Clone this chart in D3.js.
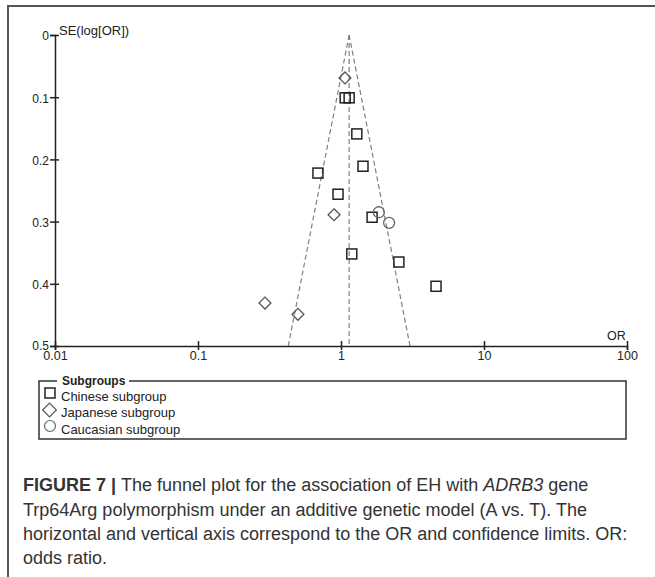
<!DOCTYPE html>
<html>
<head>
<meta charset="utf-8">
<script src="https://d3js.org/d3.v7.min.js"></script>
<style>
    body { margin: 0; background: #fff; }
    svg { display: block; font-family: "Liberation Sans", Arial, sans-serif; }
</style>
</head>
<body>
<svg id="chart" width="655" height="577"></svg>
<script>
/** Study points: odds ratio and SE(log[OR]) */
var chineseOR = [1.07, 1.14, 1.29, 1.425, 0.69, 0.953, 1.65, 1.19, 2.54, 4.62];
var chineseSE = [0.101, 0.101, 0.159, 0.211, 0.222, 0.256, 0.293, 0.352, 0.365, 0.404];

var japaneseOR = [1.066, 0.894, 0.294, 0.50];
var japaneseSE = [0.069, 0.289, 0.431, 0.449];

var caucasianOR = [1.84, 2.17];
var caucasianSE = [0.285, 0.302];

/** Pooled OR (centre of the funnel) */
var pooledOR = 1.14;

/** Axis ticks */
var xTicks = [0.01, 0.1, 1, 10, 100];
var yTicks = [0, 0.1, 0.2, 0.3, 0.4, 0.5];

var legendLabels = ['Chinese subgroup', 'Japanese subgroup', 'Caucasian subgroup'];

/** Plot area */
var plotLeft = 55, plotRight = 627,
    plotTop = 35, plotBottom = 346;

var xScale = d3.scaleLog()
    .domain([0.01, 100])
    .range([plotLeft, plotRight]);

var yScale = d3.scaleLinear()
    .domain([0, 0.5])
    .range([plotTop, plotBottom]);

var svg = d3.select('#chart');

// outer frame (only left and top edges show in the crop)
svg.append('path')
    .attr('d', 'M8,577V6H655')
    .attr('fill', 'none')
    .attr('stroke', '#555')
    .attr('stroke-width', 2);

// funnel: pooled line and 95% limits
var seMax = 0.5;
var funnel = [
    [[pooledOR, 0], [pooledOR * Math.exp(-1.96 * seMax), seMax]],
    [[pooledOR, 0], [pooledOR, seMax]],
    [[pooledOR, 0], [pooledOR * Math.exp(1.96 * seMax), seMax]]
];
var line = d3.line()
    .x(function (d) { return xScale(d[0]); })
    .y(function (d) { return yScale(d[1]); });

svg.append('g').selectAll('path')
    .data(funnel)
    .enter()
    .append('path')
    .attr('d', line)
    .attr('fill', 'none')
    .attr('stroke', '#808080')
    .attr('stroke-width', 1.2)
    .attr('stroke-dasharray', '5,3');

/** axes */
var xAxis = d3.axisBottom(xScale)
    .tickValues(xTicks)
    .tickSize(4)
    .tickFormat(function (d) { return String(d); });

var gx = svg.append('g')
    .attr('transform', 'translate(0,' + plotBottom + ')')
    .call(xAxis);
gx.attr('font-size', null).attr('font-family', null);
gx.select('.domain').attr('stroke', '#222').attr('stroke-width', 1.5);
gx.selectAll('.tick line')
    .attr('y1', -5)
    .attr('y2', 4)
    .attr('stroke', '#222')
    .attr('stroke-width', 1.5);
gx.selectAll('.tick text')
    .attr('y', 5.5)
    .attr('fill', '#222')
    .attr('font-size', 12.5);

var yAxis = d3.axisLeft(yScale)
    .tickValues(yTicks)
    .tickSize(5)
    .tickFormat(function (d) { return String(d); });

var gy = svg.append('g')
    .attr('transform', 'translate(' + plotLeft + ',0)')
    .call(yAxis);
gy.attr('font-size', null).attr('font-family', null);
gy.select('.domain').attr('stroke', '#222').attr('stroke-width', 1.5);
gy.selectAll('.tick line')
    .attr('x1', -5)
    .attr('x2', 4)
    .attr('stroke', '#222')
    .attr('stroke-width', 1.5);
gy.selectAll('.tick text')
    .attr('x', -6)
    .attr('dy', function (d) { return d === 0.5 ? '0.25em' : '0.4em'; })
    .attr('fill', '#222')
    .attr('font-size', 12);

// axis titles
svg.append('text')
    .attr('x', 59)
    .attr('y', 35)
    .attr('font-size', 13)
    .attr('fill', '#222')
    .text('SE(log[OR])');

svg.append('text')
    .attr('x', 607)
    .attr('y', 340)
    .attr('font-size', 12.5)
    .attr('fill', '#222')
    .text('OR');

/** markers */
function toPoints(ors, ses) {
    return ors.map(function (d, i) { return {or: d, se: ses[i]}; });
}

svg.append('g').selectAll('rect')
    .data(toPoints(chineseOR, chineseSE))
    .enter()
    .append('rect')
    .attr('x', function (d) { return xScale(d.or) - 5; })
    .attr('y', function (d) { return yScale(d.se) - 5; })
    .attr('width', 10)
    .attr('height', 10)
    .attr('fill', 'none')
    .attr('stroke', '#222')
    .attr('stroke-width', 1.5);

var diamond = d3.symbol().type(d3.symbolDiamond2).size(90);

svg.append('g').selectAll('path')
    .data(toPoints(japaneseOR, japaneseSE))
    .enter()
    .append('path')
    .attr('d', diamond)
    .attr('transform', function (d) {
        return 'translate(' + xScale(d.or) + ',' + yScale(d.se) + ')';
    })
    .attr('fill', 'none')
    .attr('stroke', '#555')
    .attr('stroke-width', 1.3);

svg.append('g').selectAll('circle')
    .data(toPoints(caucasianOR, caucasianSE))
    .enter()
    .append('circle')
    .attr('cx', function (d) { return xScale(d.or); })
    .attr('cy', function (d) { return yScale(d.se); })
    .attr('r', 5.5)
    .attr('fill', 'none')
    .attr('stroke', '#666')
    .attr('stroke-width', 1.3);

/** legend */
var legend = svg.append('g');

legend.append('path')
    .attr('d', 'M57,381H39V439H626V381H129')
    .attr('fill', 'none')
    .attr('stroke', '#333')
    .attr('stroke-width', 1.5);

legend.append('text')
    .attr('x', 62)
    .attr('y', 385)
    .attr('font-size', 12)
    .attr('font-weight', 'bold')
    .attr('fill', '#222')
    .text('Subgroups');

var rowY = [396, 412, 429];

legend.selectAll('text.item')
    .data(legendLabels)
    .enter()
    .append('text')
    .attr('class', 'item')
    .attr('x', 61)
    .attr('y', function (d, i) { return rowY[i] + 4.5; })
    .attr('font-size', 13)
    .attr('fill', '#222')
    .text(function (d) { return d; });

legend.append('rect')
    .attr('x', 45).attr('y', 388)
    .attr('width', 10).attr('height', 10)
    .attr('fill', 'none').attr('stroke', '#222').attr('stroke-width', 1.5);

legend.append('path')
    .attr('d', d3.symbol().type(d3.symbolDiamond2).size(120))
    .attr('transform', 'translate(49.5,410)')
    .attr('fill', 'none').attr('stroke', '#555').attr('stroke-width', 1.2);

legend.append('circle')
    .attr('cx', 50).attr('cy', 426).attr('r', 5.5)
    .attr('fill', 'none').attr('stroke', '#666').attr('stroke-width', 1.2);

/** caption */
var captionLines = [
    [{t: 'FIGURE 7 | ', w: 'bold'}, {t: 'The funnel plot for the association of EH with '}, {t: 'ADRB3', s: 'italic'}, {t: ' gene'}],
    [{t: 'Trp64Arg polymorphism under an additive genetic model (A vs. T). The'}],
    [{t: 'horizontal and vertical axis correspond to the OR and confidence limits. OR:'}],
    [{t: 'odds ratio.'}]
];
var captionY = [491, 516, 540, 564];

var caption = svg.append('g')
    .attr('font-size', 18)
    .attr('fill', '#333');

captionLines.forEach(function (parts, i) {
    var t = caption.append('text')
        .attr('x', 23)
        .attr('y', captionY[i]);
    parts.forEach(function (p) {
        t.append('tspan')
            .attr('font-weight', p.w || null)
            .attr('font-style', p.s || null)
            .text(p.t);
    });
});
</script>
</body>
</html>
